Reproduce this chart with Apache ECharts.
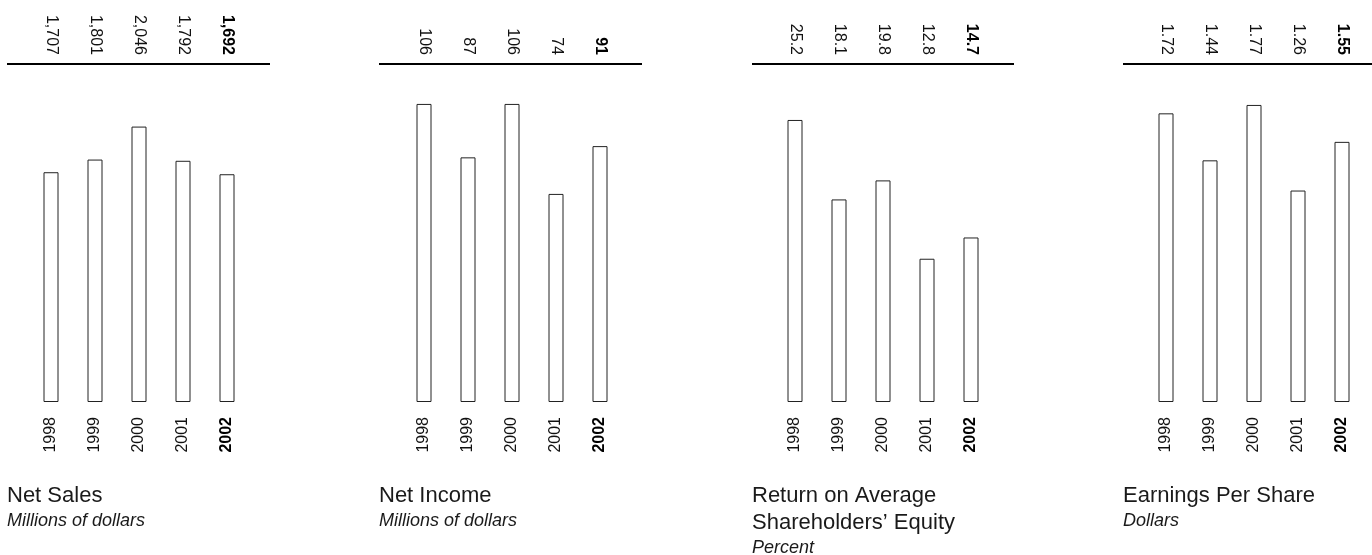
<!DOCTYPE html>
<html>
<head>
<meta charset="utf-8">
<script src="https://cdn.jsdelivr.net/npm/echarts@6/dist/echarts.min.js"></script>
<style>
  html, body { margin: 0; padding: 0; background: #fff; }
  #chart { width: 1372px; height: 555px; }
</style>
</head>
<body>
<div id="chart"></div>
<script>
// data
const years = ["1998", "1999", "2000", "2001", "2002"];
const netSales = [1707, 1801, 2046, 1792, 1692];
const netIncome = [106, 87, 106, 74, 91];
const returnOnEquity = [25.2, 18.1, 19.8, 12.8, 14.7];
const earningsPerShare = [1.72, 1.44, 1.77, 1.26, 1.55];

const netSalesLabels = netSales.map(v => v.toLocaleString("en-US"));
const netIncomeLabels = netIncome.map(v => String(v));
const returnOnEquityLabels = returnOnEquity.map(v => v.toFixed(1));
const earningsPerShareLabels = earningsPerShare.map(v => v.toFixed(2));

const FONT = "Liberation Sans, Arial, Helvetica, sans-serif";

const panels = [
  {
    title: "Net Sales",
    sub: "Millions of dollars",
    values: netSales,
    labels: netSalesLabels,
    max: 2511,
    left: 29,
    rule: [7, 270]
  },
  {
    title: "Net Income",
    sub: "Millions of dollars",
    values: netIncome,
    labels: netIncomeLabels,
    max: 120.2,
    left: 402,
    rule: [379, 642]
  },
  {
    title: "Return on Average\nShareholders\u2019 Equity",
    sub: "Percent",
    values: returnOnEquity,
    labels: returnOnEquityLabels,
    max: 30.2,
    left: 773,
    rule: [752, 1014]
  },
  {
    title: "Earnings Per Share",
    sub: "Dollars",
    values: earningsPerShare,
    labels: earningsPerShareLabels,
    max: 2.014,
    left: 1144,
    rule: [1123, 1372]
  }
];

// last year is printed in bold
function boldLast(value, index) {
  return index === years.length - 1 ? "{b|" + value + "}" : value;
}

const labelStyle = {
  fontFamily: FONT,
  fontSize: 16,
  color: "#111",
  rotate: 90,
  interval: 0,
  formatter: boldLast,
  rich: {
    b: { fontFamily: FONT, fontSize: 16, fontWeight: "bold", color: "#000" }
  }
};

const option = {
  animation: false,
  backgroundColor: "#fff",
  title: [],
  grid: [],
  xAxis: [],
  yAxis: [],
  series: [],
  graphic: []
};

panels.forEach((p, i) => {
  option.grid.push({
    left: p.left,
    width: 220,
    top: 64,
    bottom: 153,
    containLabel: false
  });
  // bottom axis: years
  option.xAxis.push({
    type: "category",
    gridIndex: i,
    position: "bottom",
    data: years,
    axisLine: { show: false },
    axisTick: { show: false },
    axisLabel: Object.assign({}, labelStyle, { margin: 15 })
  });
  // top axis: printed values
  option.xAxis.push({
    type: "category",
    gridIndex: i,
    position: "top",
    data: p.labels,
    axisLine: { show: false },
    axisTick: { show: false },
    axisLabel: Object.assign({}, labelStyle, { margin: 9 })
  });
  option.yAxis.push({
    type: "value",
    gridIndex: i,
    min: 0,
    max: p.max,
    show: false,
    splitLine: { show: false }
  });
  option.series.push({
    type: "bar",
    xAxisIndex: i * 2,
    yAxisIndex: i,
    barWidth: 15,
    data: p.values,
    itemStyle: {
      color: "#fff",
      borderColor: "#222",
      borderWidth: 1
    }
  });
  option.title.push({
    text: p.title,
    subtext: p.sub,
    left: p.rule[0],
    top: 482,
    itemGap: 0,
    padding: 0,
    textStyle: {
      fontFamily: FONT,
      fontSize: 22,
      fontWeight: "normal",
      color: "#1a1a1a",
      lineHeight: 27
    },
    subtextStyle: {
      fontFamily: FONT,
      fontSize: 18,
      fontStyle: "italic",
      color: "#1a1a1a",
      lineHeight: 23
    }
  });
  // heavy rule under the value row
  option.graphic.push({
    type: "line",
    shape: { x1: p.rule[0], y1: 64, x2: p.rule[1], y2: 64 },
    style: { stroke: "#000", lineWidth: 2 }
  });
});

let myChart = echarts.init(document.getElementById("chart"));
myChart.setOption(option);
</script>
</body>
</html>
